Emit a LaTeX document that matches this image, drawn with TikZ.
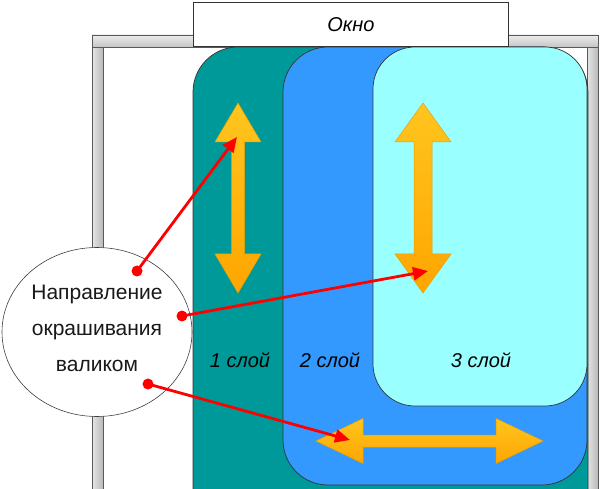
\documentclass[tikz,border=0pt]{standalone}
\usepackage{fontspec}
\setmainfont{Liberation Sans}
\usetikzlibrary{shapes.geometric,arrows.meta}
\definecolor{tealL}{HTML}{009999}
\definecolor{blueL}{HTML}{3399FF}
\definecolor{cyanL}{HTML}{99FFFF}
\definecolor{arrTop}{HTML}{FFC51F}
\definecolor{arrBot}{HTML}{FFA500}
\definecolor{arrEdge}{HTML}{E8A000}
\newcommand{\vdblarrow}[6]{%
 \path[orangearrow] (#1,#2) -- (#1+#4,#2+#5) -- (#1+#6,#2+#5) -- (#1+#6,#3-#5) -- (#1+#4,#3-#5) -- (#1,#3) -- (#1-#4,#3-#5) -- (#1-#6,#3-#5) -- (#1-#6,#2+#5) -- (#1-#4,#2+#5) -- cycle;}
\newcommand{\hdblarrow}[6]{%
 \path[orangearrow] (#2,#1) -- (#2+#5,#1-#4) -- (#2+#5,#1-#6) -- (#3-#5,#1-#6) -- (#3-#5,#1-#4) -- (#3,#1) -- (#3-#5,#1+#4) -- (#3-#5,#1+#6) -- (#2+#5,#1+#6) -- (#2+#5,#1+#4) -- cycle;}
\begin{document}
\begin{tikzpicture}[x=1pt,y=-1pt,
  hbar/.style={draw=gray!70!black, line width=0.6pt, top color=gray!15, bottom color=gray!45},
  vbar/.style={draw=gray!70!black, line width=0.6pt, left color=gray!20, right color=gray!55},
  layer/.style={draw=black!80, line width=0.7pt, rounded corners=45pt},
  orangearrow/.style={draw=arrEdge, line width=0.5pt, top color=arrTop, bottom color=arrBot},
  redline/.style={draw=red, line width=2.8pt, -{Triangle[length=15pt,width=13pt]}},
  reddot/.style={fill=red},
  lbl/.style={font=\fontsize{20}{24}\selectfont\itshape, text=black},
  winbox/.style={draw=black!80, fill=white, line width=0.8pt, inner sep=0pt, anchor=north west,
     minimum width=315pt, minimum height=44pt, font=\fontsize{20}{24}\selectfont\itshape}
]
\useasboundingbox (0,0) rectangle (600,489);
\clip (0,0) rectangle (600,489);
% window frame
\path[vbar] (92,35) rectangle (103,500);
\path[vbar] (587,35) rectangle (598,500);
\path[hbar] (92,35) rectangle (598,47);
% layers
\path[layer, fill=tealL] (193,47) rectangle (588,545);
\path[layer, fill=blueL] (283,47) rectangle (587,485);
\path[layer, fill=cyanL, rounded corners=42pt] (373,47) rectangle (587,406);
% window label
\node[winbox] (win) at (193,2) {Окно};
% layer labels
\node[lbl] (l1) at (240,360) {1 слой};
\node[lbl] (l2) at (330,360) {2 слой};
\node[lbl] (l3) at (481,360) {3 слой};
% orange arrows
\vdblarrow{238}{103}{293}{23}{39}{6.5}
\vdblarrow{423}{103}{293}{28}{39}{9}
\hdblarrow{441}{316}{543}{22.5}{47}{6}
% ellipse
\node[ellipse, draw=black!75, line width=0.6pt, fill=white, minimum width=190pt, minimum height=169pt] (ell) at (97,332) {};
\node[align=center, font=\fontsize{21}{36}\selectfont, text=black!90] (txt) at (97,328) {Направление\\окрашивания\\валиком};
% red pointers
\coordinate (d1) at (137,271);
\coordinate (d2) at (182,316);
\coordinate (d3) at (148,384);
\coordinate (e1) at (237,137);
\coordinate (e2) at (428,271);
\coordinate (e3) at (350,440);
\draw[redline] (d1) -- (e1);
\draw[redline] (d2) -- (e2);
\draw[redline] (d3) -- (e3);
\fill[reddot] (d1) circle (5.5pt);
\fill[reddot] (d2) circle (5.5pt);
\fill[reddot] (d3) circle (5.5pt);
\end{tikzpicture}
\end{document}
